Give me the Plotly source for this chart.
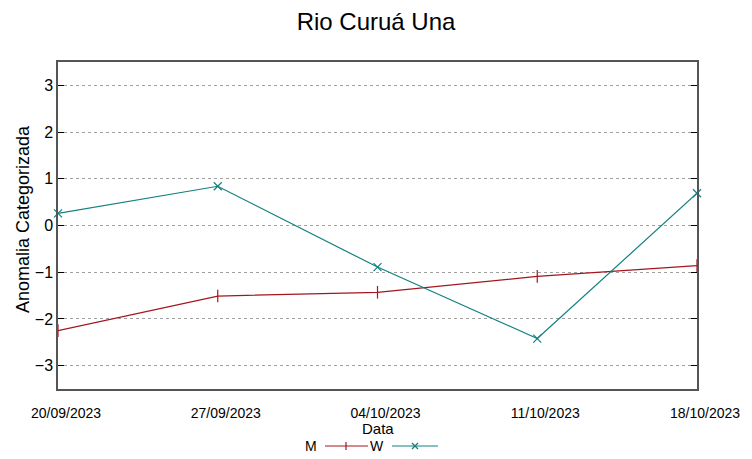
import plotly.graph_objects as go

dates = ["2023-09-20", "2023-09-27", "2023-10-04", "2023-10-11", "2023-10-18"]
tick_labels = ["20/09/2023", "27/09/2023", "04/10/2023", "11/10/2023", "18/10/2023"]
m_values = [-2.25, -1.51, -1.43, -1.09, -0.86]
w_values = [0.26, 0.84, -0.89, -2.42, 0.69]
y_ticks = [-3, -2, -1, 0, 1, 2, 3]

m_color = "#a3161e"
w_color = "#138080"
font = "Liberation Sans"

fig = go.Figure()
fig.add_trace(go.Scatter(x=dates, y=m_values, mode="lines+markers", name="M",
                         line=dict(color=m_color, width=1.2),
                         marker=dict(symbol="line-ns", size=9, line=dict(color=m_color, width=1.2)),
                         cliponaxis=False, showlegend=False))
fig.add_trace(go.Scatter(x=dates, y=w_values, mode="lines+markers", name="W",
                         line=dict(color=w_color, width=1.2),
                         marker=dict(symbol="x-thin", size=8, line=dict(color=w_color, width=1.2)),
                         cliponaxis=False, showlegend=False))

fig.update_layout(
    width=752, height=459,
    margin=dict(l=58, r=55, t=62, b=70, autoexpand=False),
    paper_bgcolor="white", plot_bgcolor="white",
    font=dict(family=font, color="black"),
    title=dict(text="Rio Curuá Una", x=0.5, xanchor="center", y=1 - 22 / 459, yanchor="middle",
               font=dict(size=24, family=font)),
    xaxis=dict(type="date", range=[dates[0], dates[-1]], tickvals=dates, ticktext=tick_labels,
               showgrid=False, zeroline=False, showline=True, linecolor="#555", linewidth=1.5,
               mirror=True, ticks="", tickfont=dict(size=14, family=font),
               ticklabelstandoff=10, ticklabelshift=8, automargin=False),
    yaxis=dict(range=[-3.5, 3.5], tickvals=y_ticks, showgrid=True, gridcolor="#a0a0a0",
               griddash="dot", gridwidth=1, zeroline=False, showline=True, linecolor="#555",
               linewidth=1.5, mirror="allticks", ticks="inside", ticklen=6, tickcolor="black",
               tickfont=dict(size=16, family=font), automargin=False),
)

def px(x):
    return (x - 58) / 639

def py(y):
    return (389 - y) / 327

fig.add_annotation(text="Anomalia Categorizada", xref="paper", yref="paper", x=px(23), y=py(219),
                   xanchor="center", yanchor="middle", textangle=-90, showarrow=False,
                   font=dict(size=18, family=font))

fig.add_annotation(text="Data", xref="paper", yref="paper", x=0.5, y=py(428),
                   xanchor="center", yanchor="middle", showarrow=False, font=dict(size=15, family=font))

# manual gnuplot-style legend (text first, then sample)
ly = 446
fig.add_annotation(text="M", xref="paper", yref="paper", x=px(311), y=py(ly),
                   xanchor="center", yanchor="middle", showarrow=False, font=dict(size=14, family=font))
fig.add_annotation(text="W", xref="paper", yref="paper", x=px(377), y=py(ly),
                   xanchor="center", yanchor="middle", showarrow=False, font=dict(size=14, family=font))

fig.add_shape(type="line", xref="paper", yref="paper", x0=px(325), x1=px(368), y0=py(ly), y1=py(ly),
              line=dict(color=m_color, width=1.2))
fig.add_shape(type="line", xref="paper", yref="paper", x0=px(346), x1=px(346), y0=py(ly - 4), y1=py(ly + 4),
              line=dict(color=m_color, width=1.2))
fig.add_shape(type="line", xref="paper", yref="paper", x0=px(392), x1=px(438), y0=py(ly), y1=py(ly),
              line=dict(color=w_color, width=1.2))
fig.add_shape(type="line", xref="paper", yref="paper", x0=px(412), x1=px(418), y0=py(ly - 3), y1=py(ly + 3),
              line=dict(color=w_color, width=1.2))
fig.add_shape(type="line", xref="paper", yref="paper", x0=px(412), x1=px(418), y0=py(ly + 3), y1=py(ly - 3),
              line=dict(color=w_color, width=1.2))

fig.write_html("out.html", config={"displayModeBar": False},
               post_script="document.body.style.margin='0';document.body.style.overflow='hidden';")
